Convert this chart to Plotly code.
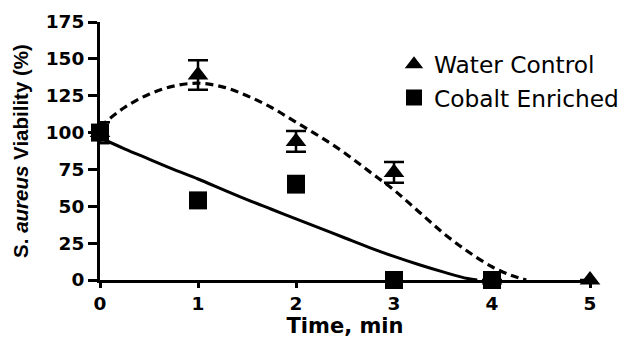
import plotly.graph_objects as go

# ---- data ----
time_water = [0, 1, 2, 3, 4, 5]
water_control = [100, 139, 94, 73, 0, 0]
water_err = [7, 10, 7, 7, 0, 0]

time_cobalt = [0, 1, 2, 3, 4]
cobalt_enriched = [100, 54, 65, 0, 0]
cobalt_err = [7, 1.5, 5.5, 0, 0]

fit_water_t = [0, 0.25, 0.5, 0.75, 1.0, 1.25, 1.5, 1.75, 2.0, 2.25, 2.5, 2.75,
               3.0, 3.25, 3.5, 3.75, 4.0, 4.2, 4.35]
fit_water_y = [104, 117, 126, 131.5, 133.5, 131, 125, 117, 107, 97, 86, 73.5,
               61, 46.5, 32, 19.5, 9, 3, 0]

fit_cobalt_t = [0, 0.25, 0.5, 0.75, 1.0, 1.25, 1.5, 1.75, 2.0, 2.25, 2.5, 2.75,
                3.0, 3.25, 3.5, 3.75, 3.85]
fit_cobalt_y = [96.5, 89, 82, 75, 68.5, 61.5, 54.5, 48, 41.5, 35, 28.5, 22,
                16, 10.5, 5.5, 1, 0]

x_ticks = [0, 1, 2, 3, 4, 5]
y_ticks = [0, 25, 50, 75, 100, 125, 150, 175]

BOLD = dict(family="DejaVu Sans", size=18.5, color="black", weight="bold")

fig = go.Figure()

fig.add_trace(go.Scatter(x=fit_water_t, y=fit_water_y, mode="lines", line_shape="spline",
                         line=dict(color="black", width=3.2, dash="8px,5px"),
                         showlegend=False, hoverinfo="skip", cliponaxis=False))
fig.add_trace(go.Scatter(x=fit_cobalt_t, y=fit_cobalt_y, mode="lines", line_shape="spline",
                         line=dict(color="black", width=3),
                         showlegend=False, hoverinfo="skip", cliponaxis=False))

fig.add_trace(go.Scatter(x=time_water, y=water_control, mode="markers", name="Water Control",
                         marker=dict(symbol="triangle-up", size=18, color="black"),
                         error_y=dict(type="data", array=water_err, visible=True,
                                      color="black", thickness=2.5, width=10),
                         cliponaxis=False))
fig.add_trace(go.Scatter(x=time_cobalt, y=cobalt_enriched, mode="markers", name="Cobalt Enriched",
                         marker=dict(symbol="square", size=18, color="black"),
                         error_y=dict(type="data", array=cobalt_err, visible=True,
                                      color="black", thickness=2.5, width=9),
                         cliponaxis=False))

fig.update_layout(
    width=626, height=338, autosize=False,
    margin=dict(l=100, r=36, t=22, b=58, autoexpand=False),
    paper_bgcolor="white", plot_bgcolor="white",
    showlegend=True,
    legend=dict(x=0.6, y=0.92, xanchor="left", yanchor="top",
                font=dict(family="DejaVu Sans", size=23.3, color="black"),
                bgcolor="rgba(0,0,0,0)", tracegroupgap=0),
    xaxis=dict(range=[0, 5], tickvals=x_ticks, ticktext=[str(v) for v in x_ticks],
               showgrid=False, zeroline=False, showline=True, linecolor="black", linewidth=3,
               ticks="outside", ticklen=5, tickwidth=3, tickcolor="black",
               tickfont=BOLD, layer="below traces", automargin=False,
               title=dict(text="Time, min", standoff=18,
                          font=dict(family="DejaVu Sans", size=21, color="black", weight="bold"))),
    yaxis=dict(range=[0, 175], tickvals=y_ticks, ticktext=[str(v) for v in y_ticks],
               showgrid=False, zeroline=False, showline=True, linecolor="black", linewidth=3,
               ticks="outside", ticklen=9, tickwidth=3, tickcolor="black",
               tickfont=BOLD, layer="below traces", automargin=False,
               title=dict(text="S. <i>aureus</i> Viability (%)", standoff=12,
                          font=dict(family="Liberation Sans", size=20.5, color="black", weight="bold"))),
)

fig.write_html("out.html")
